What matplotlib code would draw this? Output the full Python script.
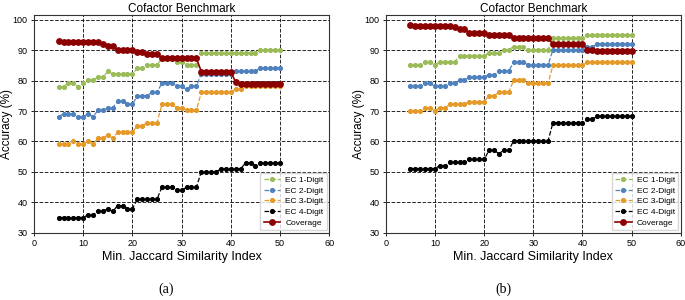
import matplotlib.pyplot as plt

plt.rcParams["font.family"] = ["Liberation Sans", "DejaVu Sans"]

# similarity thresholds (x axis)
x_vals = [5, 6, 7, 8, 9, 10, 11, 12, 13, 14, 15, 16, 17, 18, 19, 20, 21, 22, 23, 24, 25, 26, 27,
          28, 29, 30, 31, 32, 33, 34, 35, 36, 37, 38, 39, 40, 41, 42, 43, 44, 45, 46, 47, 48, 49, 50]

# panel (a)
ec1_a = [78.0, 78.0, 79.3, 79.3, 78.0, 79.3, 80.2, 80.2, 81.1, 81.1, 83.1, 82.2, 82.2, 82.2, 82.2, 82.2,
         84.1, 84.1, 85.3, 85.3, 85.3, 87.2, 87.2, 87.2, 86.2, 86.2, 85.3, 85.3, 85.3,
         89.1, 89.1, 89.1, 89.1, 89.1, 89.1, 89.1, 89.1, 89.1, 89.1, 89.1, 89.1,
         90.2, 90.2, 90.2, 90.2, 90.2]
ec2_a = [68.2, 69.1, 69.1, 69.1, 68.2, 68.2, 69.1, 68.2, 70.2, 70.2, 71.1, 71.1, 73.2, 73.2, 72.2, 72.2,
         75.1, 75.1, 75.1, 76.2, 76.2, 79.2, 79.2, 79.2, 78.2, 78.2, 77.1, 78.2, 78.2,
         82.3, 82.3, 82.3, 82.3, 82.3, 82.3, 82.3, 83.1, 83.1, 83.1, 83.1, 83.1,
         84.2, 84.2, 84.2, 84.2, 84.2]
ec3_a = [59.1, 59.1, 59.1, 60.1, 59.1, 59.1, 60.1, 59.1, 61.1, 61.1, 62.2, 61.1, 63.0, 63.0, 63.0, 63.0,
         65.2, 65.2, 66.1, 66.1, 66.1, 72.2, 72.2, 72.2, 71.1, 71.1, 70.2, 70.2, 70.2,
         76.2, 76.2, 76.2, 76.2, 76.2, 76.2, 76.2, 77.1, 77.1,
         78.2, 78.2, 78.2, 78.2, 78.2, 78.2, 78.2, 78.2]
ec4_a = [35.0, 35.0, 35.0, 35.0, 35.0, 35.0, 35.9, 35.9, 37.0, 37.0, 37.9, 37.0, 38.9, 38.9, 37.9, 37.9,
         41.0, 41.0, 41.0, 41.0, 41.0, 45.0, 45.0, 45.0, 43.9, 43.9, 45.0, 45.0, 45.0,
         50.0, 50.0, 50.0, 50.0, 51.0, 51.0, 51.0, 51.0, 51.0, 53.0, 53.0, 52.1,
         53.0, 53.0, 53.0, 53.0, 53.0]
cov_a = [93.0, 92.6, 92.6, 92.6, 92.6, 92.6, 92.6, 92.6, 92.6, 92.1, 91.3, 91.3, 90.0, 90.0, 90.0, 90.0,
         89.4, 89.4, 88.8, 88.8, 88.8, 87.4, 87.4, 87.4, 87.4, 87.4, 87.4, 87.4, 87.4,
         83.0, 83.0, 83.0, 83.0, 82.8, 82.8, 82.8, 79.5,
         78.8, 78.8, 78.8, 78.8, 78.8, 78.8, 78.8, 78.8, 78.8]

# panel (b)
ec1_b = [85.1, 85.1, 85.1, 86.2, 86.2, 85.1, 86.2, 86.2, 86.2, 86.2, 88.2, 88.2, 88.2, 88.2, 88.2, 88.2,
         89.1, 89.1, 89.1, 90.2, 90.2, 91.2, 91.2, 91.2, 90.2, 90.2, 90.2, 90.2, 90.2,
         94.0, 94.0, 94.0, 94.0, 94.0, 94.0, 94.0,
         95.1, 95.1, 95.1, 95.1, 95.1, 95.1, 95.1, 95.1, 95.1, 95.1]
ec2_b = [78.2, 78.2, 78.2, 79.1, 79.1, 78.2, 78.2, 78.2, 79.3, 79.3, 80.1, 80.1, 81.2, 81.2, 81.2, 81.2,
         82.0, 82.0, 83.1, 83.1, 83.1, 86.1, 86.1, 86.1, 85.1, 85.1, 85.1, 85.1, 85.1,
         90.2, 90.2, 90.2, 90.2, 90.2, 90.2, 90.2, 91.1, 91.1,
         92.1, 92.1, 92.1, 92.1, 92.1, 92.1, 92.1, 92.1]
ec3_b = [70.1, 70.1, 70.1, 71.1, 71.1, 70.1, 71.1, 71.1, 72.2, 72.2, 72.2, 72.2, 73.1, 73.1, 73.1, 73.1,
         75.1, 75.1, 76.2, 76.2, 76.2, 80.1, 80.1, 80.1, 79.1, 79.1, 79.1, 79.1, 79.1,
         85.1, 85.1, 85.1, 85.1, 85.1, 85.1, 85.1,
         86.1, 86.1, 86.1, 86.1, 86.1, 86.1, 86.1, 86.1, 86.1, 86.1]
ec4_b = [51.1, 51.1, 51.1, 51.1, 51.1, 51.1, 52.1, 52.1, 53.1, 53.1, 53.1, 53.1, 54.1, 54.1, 54.1, 54.1,
         57.1, 57.1, 56.0, 57.1, 57.1, 60.2, 60.2, 60.2, 60.2, 60.2, 60.2, 60.2, 60.2,
         66.2, 66.2, 66.2, 66.2, 66.2, 66.2, 66.2, 67.3, 67.3,
         68.3, 68.3, 68.3, 68.3, 68.3, 68.3, 68.3, 68.3]
cov_b = [98.2, 97.9, 97.9, 97.9, 97.9, 97.9, 97.9, 97.9, 97.9, 97.5, 96.9, 96.9, 95.7, 95.7, 95.7, 95.7,
         95.1, 95.1, 94.9, 94.9, 94.9, 94.0, 94.0, 94.0, 94.0, 94.0, 94.0, 94.0, 94.0,
         92.1, 92.1, 92.1, 92.1, 92.1, 92.1, 92.1, 90.1, 90.1,
         89.6, 89.6, 89.6, 89.6, 89.6, 89.6, 89.6, 89.6]

series_names = ["EC 1-Digit", "EC 2-Digit", "EC 3-Digit", "EC 4-Digit", "Coverage"]
colors = ["#9bbb59", "#4f81bd", "#e59a28", "#000000", "#8b0000"]


def draw(ax, ec_series, cov):
    for vals, name, c in zip(ec_series, series_names[:4], colors[:4]):
        ax.plot(x_vals, vals, "--", color=c, marker="o", ms=2.7, lw=0.9, label=name)
    ax.plot(x_vals, cov, "-", color=colors[4], marker="o", ms=3.9, lw=1.2, label=series_names[4])

    ax.set_xlim(0, 60)
    ax.set_ylim(30, 101.7)
    ax.set_xticks(range(0, 61, 10))
    ax.set_yticks(range(30, 101, 10))
    ax.grid(True, color="k", ls="--", lw=0.7, alpha=0.85)
    ax.set_axisbelow(True)
    ax.tick_params(labelsize=6.5, length=2.5, width=0.6, pad=2)
    for sp in ax.spines.values():
        sp.set_color("#333333")
        sp.set_linewidth(0.8)
    ax.set_xlabel("Min. Jaccard Similarity Index", fontsize=9, labelpad=2)
    ax.set_ylabel("Accuracy (%)", fontsize=8.5, labelpad=0)
    ax.set_title("Cofactor Benchmark", fontsize=8.5, pad=1.5)
    ax.legend(loc="lower right", fontsize=6, labelspacing=0.35, handlelength=2.0,
              borderaxespad=0.3, borderpad=0.4, handletextpad=0.6)


fig = plt.figure(figsize=(6.85, 3.0), dpi=100)
ax_a = fig.add_axes([0.0496, 0.2243, 0.4311, 0.7267])
ax_b = fig.add_axes([0.5632, 0.2243, 0.4307, 0.7267])

draw(ax_a, [ec1_a, ec2_a, ec3_a, ec4_a], cov_a)
draw(ax_b, [ec1_b, ec2_b, ec3_b, ec4_b], cov_b)

fig.text(166 / 685, 1 - 289 / 300, "(a)", ha="center", va="center", fontsize=10,
         family=["Liberation Serif", "DejaVu Serif"])
fig.text(503 / 685, 1 - 289 / 300, "(b)", ha="center", va="center", fontsize=10,
         family=["Liberation Serif", "DejaVu Serif"])

fig.savefig("out.png", dpi=100)
plt.close(fig)
